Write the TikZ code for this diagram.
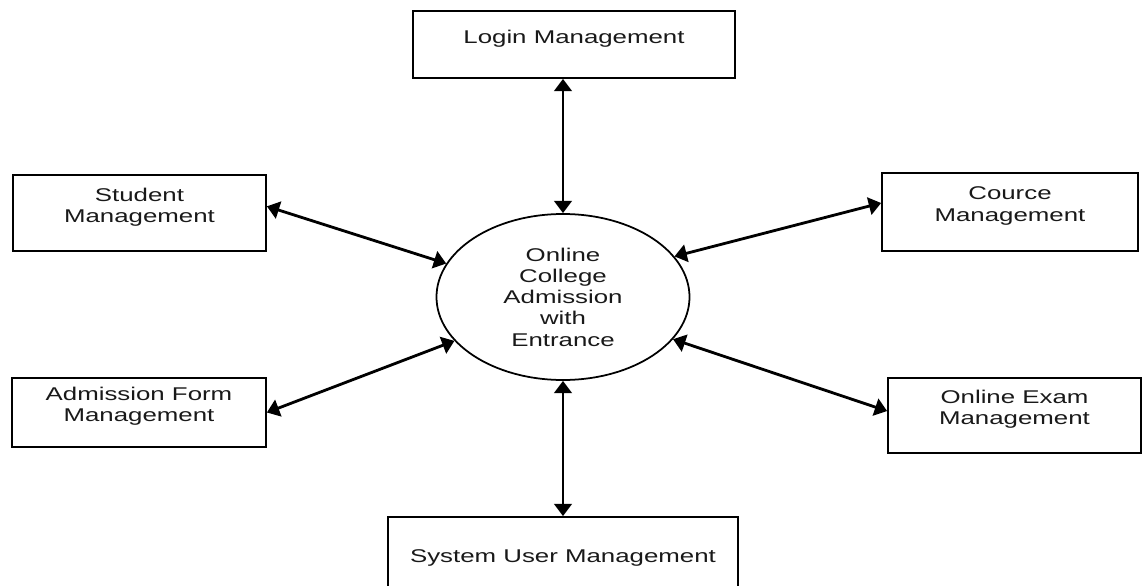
\documentclass[tikz,border=0pt]{standalone}
\usepackage{fontspec}
\setmainfont[FakeStretch=1.4]{Liberation Sans}
\usetikzlibrary{shapes,arrows.meta,positioning}

\begin{document}
\begin{tikzpicture}[
    module/.style={draw, line width=1pt, align=center, inner sep=0pt, text depth=9pt},
    flow/.style={<->, line width=1.6pt, >={Triangle[length=7pt,width=10pt]}},
    font=\fontsize{10.5}{12.1}\selectfont, text=black!90]
                \useasboundingbox (0,0) rectangle (22.94,-11.72);
                \clip (0,0) rectangle (22.94,-11.72);
                \node[ellipse,draw,line width=1pt,minimum width=5.06cm,minimum height=3.32cm,inner sep=0pt,align=center] (hub) at (11.26,-5.94) {Online\\College\\Admission\\with\\Entrance};
                \node[module,minimum width=6.44cm,minimum height=1.34cm] (login) at (11.48,-0.89) {Login Management};
                \node[module,minimum width=5.06cm,minimum height=1.52cm] (student) at (2.79,-4.26) {Student\\Management};
                \node[module,minimum width=5.12cm,minimum height=1.56cm] (cource) at (20.2,-4.24) {Cource\\Management};
                \node[module,minimum width=5.08cm,minimum height=1.38cm] (admission) at (2.78,-8.25) {Admission Form\\Management};
                \node[module,minimum width=5.06cm,minimum height=1.5cm] (exam) at (20.29,-8.31) {Online Exam\\Management};
                \node[module,minimum width=7cm,minimum height=1.88cm] (sysuser) at (11.26,-11.28) {System User Management};
                \draw[flow] (login.south -| hub.north) -- (hub.north);
                \draw[flow] (student.3) -- (hub.164);
                \draw[flow] (cource.176) -- (hub.20);
                \draw[flow] (admission.east) -- (hub.202);
                \draw[flow] (exam.178) -- (hub.339);
                \draw[flow] (hub.south) -- (sysuser.north);
            \end{tikzpicture}
\end{document}
